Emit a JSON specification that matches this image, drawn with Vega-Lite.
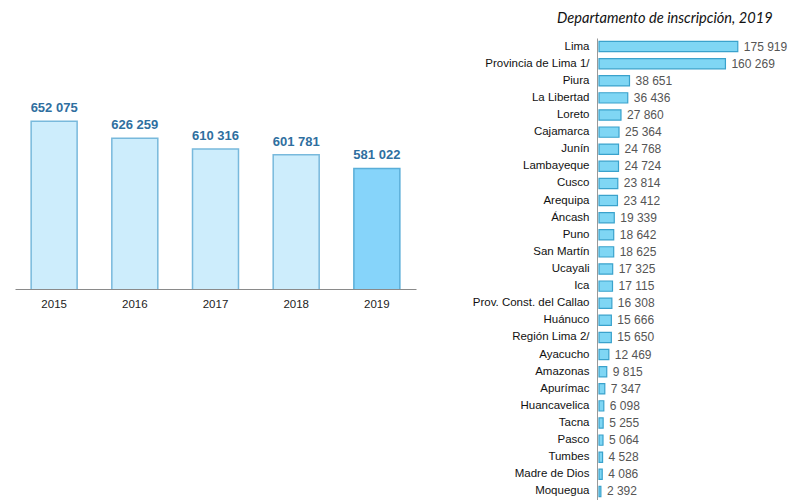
{
  "$schema": "https://vega.github.io/schema/vega-lite/v6.json",
  "background": "white",
  "padding": {"left": 15, "top": 11, "right": 0, "bottom": 0},
  "config": {"view": {"stroke": null}, "font": "Liberation Sans", "text": {"font": "Liberation Sans"}},
  "spacing": 56,
  "datasets": {
    "years": [
      {"year": "2015", "value": 652075, "label": "652 075", "current": "no"},
      {"year": "2016", "value": 626259, "label": "626 259", "current": "no"},
      {"year": "2017", "value": 610316, "label": "610 316", "current": "no"},
      {"year": "2018", "value": 601781, "label": "601 781", "current": "no"},
      {"year": "2019", "value": 581022, "label": "581 022", "current": "yes"}
    ],
    "deps": [
      {"dep": "Lima", "value": 175919, "label": "175 919"},
      {"dep": "Provincia de Lima 1/", "value": 160269, "label": "160 269"},
      {"dep": "Piura", "value": 38651, "label": "38 651"},
      {"dep": "La Libertad", "value": 36436, "label": "36 436"},
      {"dep": "Loreto", "value": 27860, "label": "27 860"},
      {"dep": "Cajamarca", "value": 25364, "label": "25 364"},
      {"dep": "Junín", "value": 24768, "label": "24 768"},
      {"dep": "Lambayeque", "value": 24724, "label": "24 724"},
      {"dep": "Cusco", "value": 23814, "label": "23 814"},
      {"dep": "Arequipa", "value": 23412, "label": "23 412"},
      {"dep": "Áncash", "value": 19339, "label": "19 339"},
      {"dep": "Puno", "value": 18642, "label": "18 642"},
      {"dep": "San Martín", "value": 18625, "label": "18 625"},
      {"dep": "Ucayali", "value": 17325, "label": "17 325"},
      {"dep": "Ica", "value": 17115, "label": "17 115"},
      {"dep": "Prov. Const. del Callao", "value": 16308, "label": "16 308"},
      {"dep": "Huánuco", "value": 15666, "label": "15 666"},
      {"dep": "Región Lima 2/", "value": 15650, "label": "15 650"},
      {"dep": "Ayacucho", "value": 12469, "label": "12 469"},
      {"dep": "Amazonas", "value": 9815, "label": "9 815"},
      {"dep": "Apurímac", "value": 7347, "label": "7 347"},
      {"dep": "Huancavelica", "value": 6098, "label": "6 098"},
      {"dep": "Tacna", "value": 5255, "label": "5 255"},
      {"dep": "Pasco", "value": 5064, "label": "5 064"},
      {"dep": "Tumbes", "value": 4528, "label": "4 528"},
      {"dep": "Madre de Dios", "value": 4086, "label": "4 086"},
      {"dep": "Moquegua", "value": 2392, "label": "2 392"}
    ]
  },
  "hconcat": [
    {
      "width": 401,
      "height": 251,
      "data": {"name": "years"},
      "encoding": {
        "x": {
          "field": "year", "type": "nominal", "title": null,
          "scale": {"paddingInner": 0.43, "paddingOuter": 0.2},
          "axis": {"labelAngle": 0, "ticks": false, "domainColor": "#8a8a8a", "labelFont": "Liberation Sans", "labelFontSize": 11.5, "labelColor": "#222", "labelPadding": 9, "domainWidth": 1}
        },
        "y": {
          "field": "value", "type": "quantitative", "title": null,
          "scale": {"domain": [400000, 777000], "zero": false, "nice": false},
          "axis": null
        }
      },
      "layer": [
        {
          "mark": {"type": "bar", "strokeWidth": 1.5, "clip": true},
          "encoding": {
            "fill": {"field": "current", "type": "nominal", "legend": null, "scale": {"domain": ["no", "yes"], "range": ["#cdedfc", "#86d4fa"]}},
            "stroke": {"field": "current", "type": "nominal", "legend": null, "scale": {"domain": ["no", "yes"], "range": ["#78b9dc", "#5aaed8"]}}
          }
        },
        {
          "mark": {"type": "text", "baseline": "bottom", "dy": -6, "font": "Liberation Sans", "fontSize": 13, "fontWeight": "bold", "color": "#2f6f9f"},
          "encoding": {"text": {"field": "label"}}
        }
      ]
    },
    {
      "width": 142,
      "height": 462,
      "data": {"name": "deps"},
      "title": {"text": "Departamento de inscripción, 2019", "fontStyle": "italic", "fontWeight": "normal", "font": "Lato", "fontSize": 14.6, "anchor": "start", "frame": "group", "dx": -40, "offset": 12, "color": "#111"},
      "encoding": {
        "y": {
          "field": "dep", "type": "nominal", "sort": null, "title": null,
          "scale": {"paddingInner": 0.4, "paddingOuter": 0.2},
          "axis": {"ticks": false, "domainColor": "#999", "labelFont": "Liberation Sans", "labelFontSize": 11.5, "labelColor": "#111", "labelPadding": 8}
        },
        "x": {
          "field": "value", "type": "quantitative", "title": null,
          "scale": {"domain": [0, 180000], "nice": false},
          "axis": null
        }
      },
      "layer": [
        {"mark": {"type": "bar", "fill": "#7fd6f4", "stroke": "#3aa2cc", "strokeWidth": 1.2, "xOffset": 2}},
        {
          "mark": {"type": "text", "align": "left", "dx": 8, "font": "Liberation Sans", "fontSize": 12, "color": "#555"},
          "encoding": {"text": {"field": "label"}}
        }
      ]
    }
  ]
}
